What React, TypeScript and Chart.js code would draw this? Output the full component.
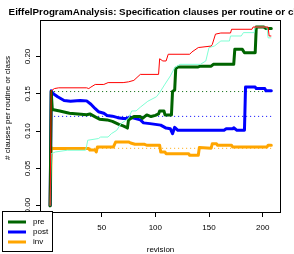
import React, { useEffect, useRef } from 'react';
import { Chart, registerables } from 'chart.js';

Chart.register(...registerables);

const TITLE = 'EiffelProgramAnalysis: Specification clauses per routine or class';
const X_TITLE = 'revision';
const Y_TITLE = '# clauses per routine or class';

const xTicks = [0, 50, 100, 150, 200];
const yTicks = [0, 0.05, 0.1, 0.15, 0.2];
const legendLabels = ['pre', 'post', 'inv'];

const preRevisions = [2, 3, 4, 11, 20, 28, 36, 39, 44, 48, 55, 60, 66, 70, 73, 74, 75, 80, 86, 88, 92, 96, 100, 103, 104, 108, 109, 115, 116, 118, 119, 121, 140, 142, 152, 154, 173, 174, 181, 183, 193, 194, 201, 203, 208];
const preValues = [0, 0.153, 0.129, 0.127, 0.124, 0.123, 0.122, 0.123, 0.119, 0.116, 0.115, 0.113, 0.109, 0.107, 0.105, 0.104, 0.115, 0.1195, 0.1195, 0.117, 0.1217, 0.1195, 0.121, 0.123, 0.127, 0.127, 0.1217, 0.1217, 0.153, 0.155, 0.184, 0.186, 0.186, 0.187, 0.187, 0.1895, 0.1895, 0.2096, 0.2096, 0.205, 0.205, 0.2395, 0.2395, 0.2375, 0.2375];

const postRevisions = [2, 3, 5, 9, 15, 21, 30, 36, 40, 44, 47, 52, 55, 60, 65, 70, 74, 76, 78, 86, 89, 95, 100, 105, 110, 114, 116, 118, 121, 164, 166, 172, 173, 176, 183, 184, 193, 194, 202, 203, 208];
const postValues = [0, 0.154, 0.15, 0.146, 0.141, 0.14, 0.141, 0.1405, 0.136, 0.13, 0.126, 0.124, 0.121, 0.12, 0.118, 0.117, 0.117, 0.119, 0.118, 0.115, 0.111, 0.11, 0.109, 0.108, 0.104, 0.103, 0.0965, 0.105, 0.101, 0.101, 0.103, 0.103, 0.1045, 0.101, 0.101, 0.159, 0.159, 0.157, 0.157, 0.154, 0.154];

const invRevisions = [2, 3, 4, 38, 39, 44, 45, 46, 61, 63, 75, 77, 81, 90, 92, 104, 105, 109, 110, 131, 132, 140, 141, 152, 153, 157, 158, 171, 172, 204, 205, 208];
const invValues = [0, 0.078, 0.0765, 0.0765, 0.0745, 0.0745, 0.072, 0.0787, 0.0787, 0.0854, 0.0854, 0.084, 0.0823, 0.0823, 0.081, 0.081, 0.072, 0.072, 0.0697, 0.0697, 0.0675, 0.0675, 0.078, 0.077, 0.083, 0.083, 0.081, 0.081, 0.0787, 0.0787, 0.081, 0.081];

const redRevisions = [2, 3, 6, 10, 36, 38, 40, 44, 52, 56, 70, 75, 80, 86, 103, 104, 107, 110, 112, 132, 134, 140, 152, 153, 156, 161, 170, 171, 190, 191, 205, 206, 208];
const redValues = [0, 0.154, 0.157, 0.158, 0.158, 0.157, 0.159, 0.1625, 0.1625, 0.165, 0.165, 0.166, 0.168, 0.176, 0.176, 0.197, 0.194, 0.194, 0.203, 0.203, 0.206, 0.212, 0.214, 0.216, 0.23, 0.2315, 0.2315, 0.2365, 0.2365, 0.2395, 0.2395, 0.2275, 0.2275];

const aquaRevisions = [2, 3, 7, 18, 35, 36, 37, 47, 49, 56, 59, 64, 68, 72, 75, 78, 82, 86, 93, 101, 104, 109, 114, 118, 123, 142, 147, 150, 155, 161, 169, 170, 180, 182, 192, 193, 204, 205, 208];
const aquaValues = [0, 0.0697, 0.072, 0.0743, 0.0743, 0.08, 0.0877, 0.09, 0.092, 0.092, 0.0965, 0.101, 0.11, 0.114, 0.117, 0.127, 0.127, 0.132, 0.14, 0.146, 0.1515, 0.163, 0.174, 0.185, 0.1895, 0.1895, 0.194, 0.212, 0.214, 0.2208, 0.2208, 0.2275, 0.2275, 0.232, 0.232, 0.2395, 0.2395, 0.225, 0.225];

const meanRevisions = [2, 208];
const preMean = 0.153;
const postMean = 0.1197;
const invMean = 0.0769;

const X_MIN = -6.5;
const X_MAX = 216.1;
const Y_MIN = -0.0085;
const Y_MAX = 0.2476;

const FONT = "'Liberation Sans', Arial, Helvetica, sans-serif";
const COL_PRE = '#006400';
const COL_POST = '#0000FF';
const COL_INV = '#FFA500';
const COL_RED = '#FF0000';
const COL_AQUA = '#7FFFD4';

function pts(xs: number[], ys: number[]) {
  return xs.map((x, i) => ({ x, y: ys[i] }));
}

export default function App() {
  const ref = useRef<HTMLCanvasElement>(null);
  useEffect(() => {
    const canvas = ref.current!;
    const decor = {
      id: 'rdecor',
      afterDraw(chart: any) {
        const { ctx, chartArea: a } = chart;
        ctx.save();
        ctx.strokeStyle = '#000';
        ctx.lineWidth = 1;
        ctx.strokeRect(a.left - 0.5, a.top - 0.5, a.right - a.left + 1, a.bottom - a.top + 1);
        // title
        ctx.fillStyle = '#000';
        ctx.font = `bold 9.8px ${FONT}`;
        ctx.textAlign = 'center';
        ctx.textBaseline = 'alphabetic';
        ctx.fillText(TITLE, (a.left + a.right) / 2, 14.5);
        // y axis title
        ctx.save();
        ctx.font = `8px ${FONT}`;
        ctx.textBaseline = 'middle';
        ctx.translate(7.5, 108);
        ctx.rotate(-Math.PI / 2);
        ctx.fillText(Y_TITLE, 0, 0);
        ctx.restore();
        // legend
        const colors = [COL_PRE, COL_POST, COL_INV];
        ctx.fillStyle = '#fff';
        ctx.fillRect(2.5, 211.5, 50, 40);
        ctx.strokeStyle = '#000';
        ctx.lineWidth = 1;
        ctx.strokeRect(2.5, 211.5, 50, 40);
        ctx.font = `8px ${FONT}`;
        ctx.textAlign = 'left';
        ctx.textBaseline = 'middle';
        legendLabels.forEach((lab, i) => {
          const y = 222 + i * 10;
          ctx.strokeStyle = colors[i];
          ctx.lineWidth = 3;
          ctx.beginPath();
          ctx.moveTo(8, y);
          ctx.lineTo(26, y);
          ctx.stroke();
          ctx.fillStyle = '#000';
          ctx.fillText(lab, 33, y);
        });
        ctx.restore();
      },
    };

    const thick = (label: string, data: any, color: string) => ({
      label, data, borderColor: color, backgroundColor: color, borderWidth: 3,
      pointRadius: 0, tension: 0, fill: false, borderCapStyle: 'round', borderJoinStyle: 'round',
    });
    const thin = (label: string, data: any, color: string) => ({
      label, data, borderColor: color, backgroundColor: color, borderWidth: 1,
      pointRadius: 0, tension: 0, fill: false,
    });
    const dotted = (label: string, v: number, color: string) => ({
      label, data: pts(meanRevisions, meanRevisions.map(() => v)), borderColor: color,
      borderWidth: 1, borderDash: [1, 3], pointRadius: 0, fill: false,
    });

    const chart = new Chart(canvas, {
      type: 'line',
      data: {
        datasets: [
          thin('total', pts(redRevisions, redValues), COL_RED),
          thin('all', pts(aquaRevisions, aquaValues), COL_AQUA),
          thick('pre', pts(preRevisions, preValues), COL_PRE),
          thick('post', pts(postRevisions, postValues), COL_POST),
          thick('inv', pts(invRevisions, invValues), COL_INV),
          dotted('pre mean', preMean, COL_PRE),
          dotted('post mean', postMean, COL_POST),
          dotted('inv mean', invMean, COL_INV),
        ] as any,
      },
      options: {
        animation: false,
        responsive: false,
        devicePixelRatio: 1,
        layout: { padding: { top: 21, right: 14, bottom: 0, left: 0 } },
        plugins: { legend: { display: false }, title: { display: false }, tooltip: { enabled: false } },
        scales: {
          x: {
            type: 'linear',
            min: X_MIN,
            max: X_MAX,
            afterFit: (s: any) => { s.height = 42; },
            afterBuildTicks: (s: any) => { s.ticks = xTicks.map((v) => ({ value: v })); },
            ticks: { color: '#000', font: { family: FONT, size: 8 }, padding: 6, maxRotation: 0, autoSkip: false, callback: (v: any) => String(v) },
            grid: { drawOnChartArea: false, tickLength: 5, color: '#000', lineWidth: 1 },
            border: { display: false },
            title: { display: true, text: X_TITLE, color: '#000', font: { family: FONT, size: 8 }, padding: { top: 0, bottom: -1 } },
          },
          y: {
            type: 'linear',
            min: Y_MIN,
            max: Y_MAX,
            afterFit: (s: any) => { s.width = 41; },
            afterBuildTicks: (s: any) => { s.ticks = yTicks.map((v) => ({ value: v })); },
            ticks: { color: '#000', font: { family: FONT, size: 8 }, padding: 0, minRotation: 90, maxRotation: 90, crossAlign: 'center', autoSkip: false, callback: (v: any) => Number(v).toFixed(2) },
            grid: { drawOnChartArea: false, tickLength: 5, color: '#000', lineWidth: 1 },
            border: { display: false },
            title: { display: false },
          },
        },
      } as any,
      plugins: [decor],
    });
    return () => chart.destroy();
  }, []);
  return (
    <div style={{ position: 'fixed', left: 0, top: 0, width: 294, height: 254, background: '#fff' }}>
      <canvas ref={ref} width={294} height={254} style={{ display: 'block', width: 294, height: 254 }} />
    </div>
  );
}
